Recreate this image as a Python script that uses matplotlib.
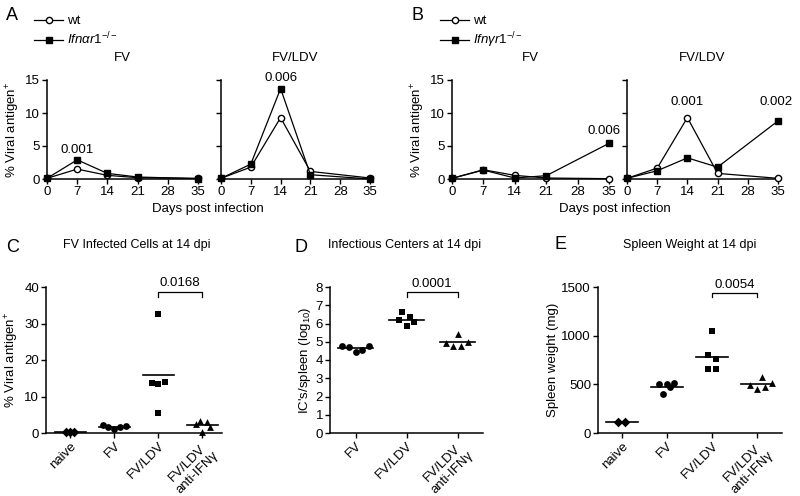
import matplotlib
matplotlib.use('Agg')
import matplotlib.pyplot as plt
from matplotlib.lines import Line2D

plt.rcParams['font.family'] = ['Liberation Sans', 'DejaVu Sans']
plt.rcParams['mathtext.fontset'] = 'custom'
plt.rcParams['mathtext.rm'] = 'Liberation Sans'
plt.rcParams['mathtext.it'] = 'Liberation Sans:italic'
plt.rcParams['axes.linewidth'] = 1.1
plt.rcParams['xtick.major.width'] = 1.0
plt.rcParams['ytick.major.width'] = 1.0
plt.rcParams['xtick.major.size'] = 3.5
plt.rcParams['ytick.major.size'] = 3.5
plt.rcParams['xtick.major.pad'] = 1.5
plt.rcParams['ytick.major.pad'] = 1.5

FS = 9.5

# ---- time course data (panels A, B) ----
days = [0, 7, 14, 21, 35]
a_fv_wt = [0.1, 1.5, 0.55, 0.2, 0.1]
a_fv_ko = [0.1, 2.9, 0.85, 0.3, 0.05]
a_ldv_wt = [0.1, 1.8, 9.3, 1.15, 0.15]
a_ldv_ko = [0.1, 2.25, 13.7, 0.65, 0.0]
b_fv_wt = [0.1, 1.4, 0.55, 0.15, 0.05]
b_fv_ko = [0.1, 1.35, 0.15, 0.5, 5.4]
b_ldv_wt = [0.1, 1.65, 9.3, 0.85, 0.1]
b_ldv_ko = [0.1, 1.25, 3.2, 1.8, 8.8]

# ---- 14 dpi data (panels C, D, E) ----
c_cats = ['naive', 'FV', 'FV/LDV', 'FV/LDV\nanti-IFNγ']
c_naive = [0.3, 0.4, 0.2]
c_fv = [2.1, 1.7, 1.1, 1.6, 1.8]
c_ldv = [13.6, 32.6, 5.6, 13.4, 14.1]
c_anti = [2.4, 3.4, 0.4, 3.0, 1.7]

d_cats = ['FV', 'FV/LDV', 'FV/LDV\nanti-IFNγ']
d_fv = [4.78, 4.71, 4.42, 4.57, 4.78]
d_ldv = [6.17, 6.61, 5.86, 6.37, 6.08]
d_anti = [4.93, 4.77, 5.44, 4.77, 5.0]

e_cats = ['naive', 'FV', 'FV/LDV', 'FV/LDV\nanti-IFNγ']
e_naive = [116, 116]
e_fv = [503, 397, 500, 473, 514]
e_ldv = [805, 1045, 661, 661, 757]
e_anti = [497, 455, 579, 476, 517]

W, H = 800, 496
fig = plt.figure(figsize=(8, 4.96), dpi=100)


def box(x0, x1, ytop, ybot):
    return fig.add_axes([x0 / W, 1 - ybot / H, (x1 - x0) / W, (ybot - ytop) / H])


def ftext(x, y, s, **kw):
    fig.text(x / W, 1 - y / H, s, **kw)


def style(ax):
    for s in ['top', 'right']:
        ax.spines[s].set_visible(False)
    ax.tick_params(labelsize=FS, direction='out')


def course(ax, wt, ko, ylabels=True):
    ax.plot(days, wt, '-o', color='black', mfc='white', ms=4.5, lw=0.9, clip_on=False, zorder=3)
    ax.plot(days, ko, '-s', color='black', ms=4, lw=0.9, clip_on=False, zorder=4)
    ax.set_xlim(0, 35)
    ax.set_ylim(0, 15)
    ax.set_xticks([0, 7, 14, 21, 28, 35])
    ax.set_yticks([0, 5, 10, 15])
    if not ylabels:
        ax.set_yticklabels([])
    style(ax)


# ---- A ----
ax = box(47, 198, 80, 179)
course(ax, a_fv_wt, a_fv_ko)
ax.set_ylabel('% Viral antigen$^{+}$', fontsize=FS, labelpad=2)
ax.text(7, 4.4, '0.001', ha='center', va='center', fontsize=FS)
ax = box(221, 370, 80, 179)
course(ax, a_ldv_wt, a_ldv_ko, ylabels=False)
ax.text(14, 15.3, '0.006', ha='center', va='center', fontsize=FS)

# ---- B ----
ax = box(452, 609, 80, 179)
course(ax, b_fv_wt, b_fv_ko)
ax.set_ylabel('% Viral antigen$^{+}$', fontsize=FS, labelpad=2)
ax.text(34, 7.3, '0.006', ha='center', va='center', fontsize=FS)
ax = box(627, 778, 80, 179)
course(ax, b_ldv_wt, b_ldv_ko, ylabels=False)
ax.text(14, 11.6, '0.001', ha='center', va='center', fontsize=FS)
ax.text(34.5, 11.6, '0.002', ha='center', va='center', fontsize=FS)

ftext(6, 15, 'A', fontsize=13, va='center', ha='left')
ftext(411, 15, 'B', fontsize=13, va='center', ha='left')
ftext((47 + 198) / 2, 58, 'FV', fontsize=FS, ha='center', va='center')
ftext((221 + 370) / 2, 58, 'FV/LDV', fontsize=FS, ha='center', va='center')
ftext((452 + 609) / 2, 58, 'FV', fontsize=FS, ha='center', va='center')
ftext((627 + 778) / 2, 58, 'FV/LDV', fontsize=FS, ha='center', va='center')
ftext(208, 209, 'Days post infection', fontsize=FS, ha='center', va='center')
ftext(615, 209, 'Days post infection', fontsize=FS, ha='center', va='center')

for x0, ko in [(34, r'$\mathit{Ifn\alpha r1}^{-/-}$'), (440, r'$\mathit{Ifn\gamma r1}^{-/-}$')]:
    h1 = Line2D([], [], color='black', marker='o', mfc='white', ms=4.5, lw=0.9)
    h2 = Line2D([], [], color='black', marker='s', ms=4, lw=0.9)
    leg = fig.legend([h1, h2], ['wt', ko], loc='upper left',
                     bbox_to_anchor=(x0 / W, 1 - 15 / H),
                     frameon=False, fontsize=FS, handlelength=2.2, handletextpad=0.3,
                     labelspacing=0.25, borderaxespad=0, borderpad=0)


def scatter_panel(ax, groups, markers, offs, half=0.35):
    for i, (vals, m, off) in enumerate(zip(groups, markers, offs)):
        xs = [i + o for o in off]
        ax.scatter(xs, vals, marker=m, s=24, color='black', linewidths=0, clip_on=False, zorder=3)
        mean = sum(vals) / len(vals)
        ax.plot([i - half, i + half], [mean, mean], color='black', lw=1.2, zorder=2)
    style(ax)


def bracket(ax, x0, x1, y, dy, label):
    ax.plot([x0, x0, x1, x1], [y - dy, y, y, y - dy], color='black', lw=0.9, clip_on=False)
    ax.text((x0 + x1) / 2, y + dy * 0.6, label, ha='center', va='bottom', fontsize=FS)


def cat_labels(ax, cats):
    ax.set_xticks(range(len(cats)))
    ax.set_xticklabels(cats, rotation=45, ha='right', rotation_mode='anchor',
                       multialignment='center', fontsize=FS)


# ---- C ----
ax = box(46, 222, 287, 433)
scatter_panel(ax, [c_naive, c_fv, c_ldv, c_anti], ['D', 'o', 's', '^'],
              [[-0.1, 0.0, 0.08], [-0.25, -0.13, 0.0, 0.13, 0.27],
               [-0.15, 0.0, 0.0, 0.0, 0.15], [-0.14, -0.05, 0.0, 0.1, 0.17]])
ax.set_xlim(-0.55, 3.45)
ax.set_ylim(0, 40)
ax.set_yticks([0, 10, 20, 30, 40])
cat_labels(ax, c_cats)
ax.set_ylabel('% Viral antigen$^{+}$', fontsize=FS, labelpad=2)
bracket(ax, 2, 3, 38.6, 1.3, '0.0168')
ftext(6, 247, 'C', fontsize=13, va='center', ha='left')
ftext(137, 245, 'FV Infected Cells at 14 dpi', fontsize=9, ha='center', va='center')

# ---- D ----
ax = box(330, 483, 287, 433)
scatter_panel(ax, [d_fv, d_ldv, d_anti], ['o', 's', '^'],
              [[-0.26, -0.13, 0.0, 0.13, 0.26], [-0.15, -0.08, 0.0, 0.07, 0.14],
               [-0.22, -0.09, 0.0, 0.07, 0.21]], half=0.34)
ax.set_xlim(-0.5, 2.5)
ax.set_ylim(0, 8)
ax.set_yticks(range(9))
cat_labels(ax, d_cats)
ax.set_ylabel("IC's/spleen (log$_{10}$)", fontsize=FS, labelpad=2)
bracket(ax, 1, 2, 7.7, 0.25, '0.0001')
ftext(294, 247, 'D', fontsize=13, va='center', ha='left')
ftext(405, 245, 'Infectious Centers at 14 dpi', fontsize=9, ha='center', va='center')

# ---- E ----
ax = box(598, 782, 287, 433)
scatter_panel(ax, [e_naive, e_fv, e_ldv, e_anti], ['D', 'o', 's', '^'],
              [[-0.09, 0.06], [-0.17, -0.08, 0.0, 0.07, 0.16],
               [-0.08, 0.0, -0.08, 0.08, 0.08], [-0.16, 0.0, 0.1, 0.17, 0.33]])
ax.set_xlim(-0.53, 3.55)
ax.set_ylim(0, 1500)
ax.set_yticks([0, 500, 1000, 1500])
cat_labels(ax, e_cats)
ax.set_ylabel('Spleen weight (mg)', fontsize=FS, labelpad=2)
bracket(ax, 2, 3, 1435, 40, '0.0054')
ftext(554, 245, 'E', fontsize=13, va='center', ha='left')
ftext(690, 245, 'Spleen Weight at 14 dpi', fontsize=9, ha='center', va='center')

fig.savefig('out.png', dpi=100)
